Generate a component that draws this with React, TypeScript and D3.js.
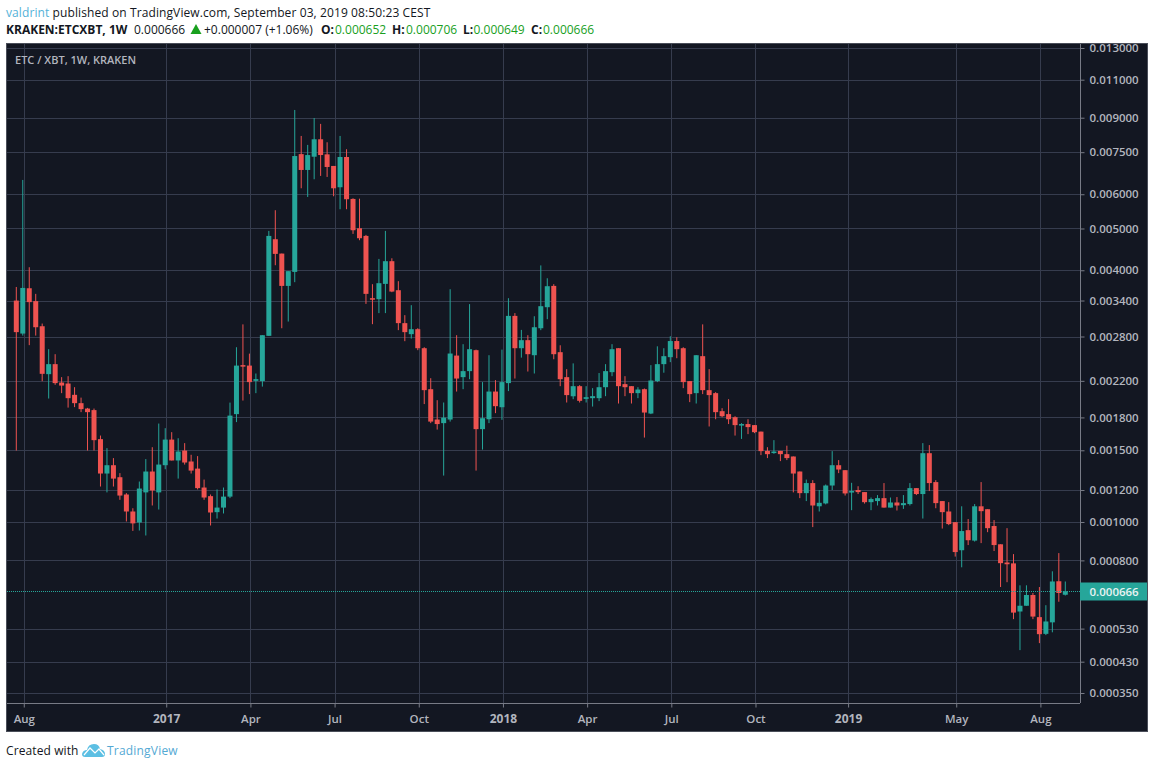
import { useEffect, useRef } from 'react';
import * as d3 from 'd3';

// Weekly ETC/XBT candles, in millionths of a BTC
const opens = [3399,2845,3632,3389,2960,2282,2410,2180,2168,2038,1947,1890,1874,1596,1317,1380,1290,1170,1062,997,1184,1332,1184,1380,1592,1417,1498,1409,1354,1217,1159,1058,1086,1156,1833,2397,2391,2200,2197,2810,4722,4373,3678,3965,7423,6825,7322,8030,7414,6972,6227,7311,5852,5006,4806,3443,3425,3718,4199,3594,3010,2836,2913,2628,2102,1779,1744,1779,2525,2245,2320,2600,1687,1782,2075,1904,2173,3130,2628,2745,2530,2928,3280,3678,2572,2245,2022,2137,1993,2001,2001,2125,2307,2628,2161,2137,2057,2102,1839,2197,2410,2503,2732,2628,2197,2057,2517,2091,2057,1863,1833,1802,1721,1735,1725,1664,1495,1477,1495,1468,1449,1332,1179,1248,1094,1112,1231,1380,1342,1184,1200,1186,1120,1127,1146,1086,1118,1101,1108,1213,1173,1476,1255,1127,1062,999,849,954,898,1094,1076,977,879,790,786,589,610,651,569,513,551,707,652];
const highs = [3657,6473,4065,3524,3003,2614,2544,2245,2257,2125,2007,1897,1890,1628,1518,1436,1320,1179,1082,1259,1428,1526,1740,1696,1659,1604,1561,1463,1452,1273,1170,1204,1217,1953,2642,2990,2552,2290,2820,4936,5511,4373,3981,9376,8173,7794,8987,8711,7904,6972,8173,7617,5872,5860,4832,3712,4250,4936,4265,3772,3142,3316,2928,2642,2232,1979,1954,3613,2820,2686,3335,2608,2185,2530,2209,2608,3443,3177,2902,2820,3124,4105,3832,3712,2670,2345,2420,2149,2137,2114,2296,2410,2686,2628,2257,2137,2125,2110,2397,2655,2628,2804,2789,2642,2197,2530,2990,2345,2068,1894,1990,1812,1744,1782,1725,1664,1526,1587,1495,1539,1449,1332,1273,1269,1200,1238,1493,1420,1342,1250,1226,1186,1150,1166,1248,1150,1153,1166,1248,1213,1561,1544,1269,1127,1120,999,1094,1017,1108,1255,1076,1011,879,965,830,690,690,659,683,612,750,835,706];
const lows = [1498,2814,2672,2814,2196,1997,2153,2057,1900,1905,1853,1498,1498,1224,1184,1224,1135,1003,950,952,925,1099,1074,1349,1417,1280,1385,1317,1204,1135,980,1020,1050,1146,1754,1975,2046,2057,2132,2810,4109,2928,3036,3752,6193,5914,6497,6613,6577,5936,5540,5540,4858,4697,3339,2993,3177,3177,3556,2898,2730,2769,2600,1937,1744,1683,1302,1759,2075,2102,2220,1339,1506,1744,1843,1776,2080,2228,2497,2315,2290,2898,3075,2475,2137,1954,1990,1954,1954,1911,1969,2023,2257,1943,2023,1943,2001,1610,1833,2185,2300,2436,2489,2114,1958,1943,2046,1712,1782,1802,1735,1628,1598,1641,1650,1460,1436,1471,1412,1420,1184,1146,1127,971,1062,1106,1200,1320,1163,1070,1173,1111,1070,1099,1086,1086,1068,1078,1099,1166,1020,1193,1082,963,982,818,768,875,893,885,943,845,683,703,562,463,610,562,484,509,518,625,649];
const closes = [2867,3638,3371,2944,2286,2410,2173,2144,2001,1947,1884,1853,1587,1317,1380,1280,1163,1062,992,1210,1332,1197,1385,1592,1417,1490,1401,1339,1213,1150,1056,1086,1156,1818,2391,2378,2185,2221,2820,4806,4366,3678,3981,7348,6825,7386,8030,7387,6934,6193,7311,5843,4954,4747,3524,3417,3732,4199,3568,3010,2867,2913,2628,2091,1759,1735,1798,2553,2228,2320,2614,1687,1792,2075,1915,2185,3130,2628,2745,2544,2944,3298,3672,2544,2220,2035,2137,1972,2012,2023,2125,2320,2614,2137,2125,2057,2098,1849,2204,2410,2517,2732,2614,2185,2046,2530,2091,2035,1853,1812,1782,1725,1735,1706,1659,1493,1468,1490,1468,1436,1317,1179,1248,1099,1116,1231,1380,1347,1177,1193,1186,1120,1140,1146,1086,1118,1099,1114,1213,1173,1476,1248,1114,1058,988,840,949,900,1094,1064,965,875,787,782,585,610,651,571,512,554,706,659,666];

const priceTicks = [13000,11000,9000,7500,6000,5000,4000,3400,2800,2200,1800,1500,1200,1000,800,530,430,350];
const lastPrice = 666;
// Jan 1 2019 falls midweek, so its tick sits a little past the candle
const timeIndex = [1,23,36,49,62,75,88,101,114,128.3,145,158];
const timeLabels = ['Aug','2017','Apr','Jul','Oct','2018','Apr','Jul','Oct','2019','May','Aug'];
const boldLabels = ['2017','2018','2019'];

const UP = '#26a69a';
const DOWN = '#ef5350';
const BG = '#131722';
const GRID = '#363c4e';
const AXIS = '#787b86';
const LABEL = '#b2b5be';
const FONT = '"Open Sans", sans-serif';

// TradingView's log mode keeps a small offset on every price
const logOffset = 100;

const App = () => {
  const svgRef = useRef<SVGSVGElement>(null);

  useEffect(() => {
    if (!svgRef.current) return;
    const svg = d3.select(svgRef.current);
    svg.selectAll('*').remove();

    const frame = { left: 6, right: 1147, top: 43, bottom: 731 };
    const plotRight = 1080;
    const plotBottom = 703;
    // grid and ticks sit about a pixel right of the candle centres
    const gridShift = 1;

    const y = d3.scaleLog()
      .domain([13000 + logOffset, 350 + logOffset])
      .range([48, 693]);
    const x = d3.scaleLinear()
      .domain([0, opens.length - 1])
      .range([16.3, 1065.3]);
    const py = (p: number) => y(p + logOffset);

    svg.append('rect')
      .attr('x', frame.left + 0.5).attr('y', frame.top + 0.5)
      .attr('width', frame.right - frame.left).attr('height', frame.bottom - frame.top)
      .attr('fill', BG).attr('stroke', '#4a4e59');

    // Grid
    svg.append('g').selectAll('line').data(priceTicks).join('line')
      .attr('x1', frame.left + 1).attr('x2', plotRight)
      .attr('y1', d => Math.round(py(d)) + 0.5).attr('y2', d => Math.round(py(d)) + 0.5)
      .attr('stroke', GRID);
    svg.append('g').selectAll('line').data(timeIndex).join('line')
      .attr('x1', d => Math.round(x(d)) + gridShift + 0.5).attr('x2', d => Math.round(x(d)) + gridShift + 0.5)
      .attr('y1', frame.top + 1).attr('y2', plotBottom)
      .attr('stroke', GRID);

    // Axes
    const yAxis = d3.axisRight(y)
      .tickValues(priceTicks.map(d => d + logOffset))
      .tickSize(4)
      .tickPadding(5)
      .tickFormat(d => ((+d - logOffset) / 1e6).toFixed(6));
    const yG = svg.append('g')
      .attr('transform', `translate(${plotRight + 0.5},0)`)
      .call(yAxis);
    const xAxis = d3.axisBottom(x)
      .tickValues(timeIndex)
      .tickSize(4)
      .tickPadding(7)
      .tickFormat((_, i) => timeLabels[i]);
    const xG = svg.append('g')
      .attr('transform', `translate(${gridShift},${plotBottom + 0.5})`)
      .call(xAxis);
    yG.select('.domain').attr('d', `M0,${frame.top + 1}V${plotBottom}`).attr('stroke', AXIS);
    xG.select('.domain').attr('d', `M${frame.left},0H${plotRight - gridShift}`).attr('stroke', AXIS);
    [yG, xG].forEach(g => {
      g.selectAll('.tick line').attr('stroke', AXIS);
      g.selectAll('text')
        .attr('fill', LABEL)
        .style('font-family', FONT)
        .style('font-size', '11.5px')
        .style('font-weight', '600');
    });
    xG.selectAll('text')
      .filter(d => boldLabels.includes(timeLabels[timeIndex.indexOf(d as number)]))
      .style('font-size', '12px')
      .style('font-weight', '700');

    // Candles
    const candles = svg.append('g').selectAll('g').data(opens).join('g')
      .attr('fill', (d, i) => closes[i] >= d ? UP : DOWN)
      .attr('stroke', (d, i) => closes[i] >= d ? UP : DOWN);
    candles.append('line')
      .attr('x1', (_, i) => x(i)).attr('x2', (_, i) => x(i))
      .attr('y1', (_, i) => py(highs[i])).attr('y2', (_, i) => py(lows[i]))
      .attr('stroke-width', 1);
    candles.append('rect')
      .attr('x', (_, i) => x(i) - 2.5)
      .attr('y', (d, i) => py(Math.max(d, closes[i])))
      .attr('width', 5)
      .attr('height', (d, i) => Math.max(1.5, Math.abs(py(d) - py(closes[i]))))
      .attr('stroke', 'none');

    // Last price line and tag
    const lastY = Math.round(py(lastPrice)) + 0.5;
    svg.append('line')
      .attr('x1', frame.left + 1).attr('x2', plotRight)
      .attr('y1', lastY).attr('y2', lastY)
      .attr('stroke', UP).attr('stroke-dasharray', '1 1');
    svg.append('rect')
      .attr('x', plotRight).attr('y', lastY - 9)
      .attr('width', frame.right - plotRight).attr('height', 18)
      .attr('fill', UP);
    svg.append('text')
      .attr('x', plotRight + 9.5).attr('y', lastY + 4)
      .attr('fill', '#e8f3f2')
      .style('font-family', FONT).style('font-size', '11.5px').style('font-weight', '600')
      .text((lastPrice / 1e6).toFixed(6));

    // Chart title
    svg.append('text')
      .attr('x', 15).attr('y', 64)
      .attr('fill', LABEL)
      .style('font-family', FONT).style('font-size', '11px').style('font-weight', '600')
      .text('ETC / XBT, 1W, KRAKEN');

    // Header lines
    const line1 = svg.append('text').attr('x', 6).attr('y', 17)
      .style('font-family', FONT).style('font-size', '12px').style('letter-spacing', '0.1px').attr('fill', BG);
    line1.append('tspan').attr('fill', '#53b2d8').text('valdrint');
    line1.append('tspan').text(' published on TradingView.com, September 03, 2019 08:50:23 CEST');

    const line2 = svg.append('g')
      .style('font-family', FONT).style('font-size', '12px').attr('fill', BG);
    const headerPart = (px: number, s: string, color = BG, bold = false) =>
      line2.append('text').attr('x', px).attr('y', 34)
        .attr('fill', color)
        .style('font-weight', bold ? '700' : '400')
        .text(s);
    const quoteGreen = '#19a01e';
    headerPart(6, 'KRAKEN:ETCXBT, 1W', BG, true);
    headerPart(134, '0.000666');
    svg.append('path')
      .attr('d', 'M190.5,34 L196,24 L201.5,34 Z')
      .attr('fill', quoteGreen);
    headerPart(204, '+0.000007 (+1.06%)');
    headerPart(321, 'O:', BG, true);
    headerPart(335, '0.000652', quoteGreen);
    headerPart(392, 'H:', BG, true);
    headerPart(406, '0.000706', quoteGreen);
    headerPart(463, 'L:', BG, true);
    headerPart(473.5, '0.000649', quoteGreen);
    headerPart(531, 'C:', BG, true);
    headerPart(543, '0.000666', quoteGreen);

    // Footer
    svg.append('text').attr('x', 6).attr('y', 755)
      .style('font-family', FONT).style('font-size', '12px').style('letter-spacing', '0.1px').attr('fill', BG)
      .text('Created with');
    svg.append('path')
      .attr('d', 'M82,754 Q83,750 87,750 Q88,744 94,744 Q99,744 100,749 Q105,750 105,754 Q105,757 102,757 L85,757 Q82,757 82,754 Z')
      .attr('fill', '#5cbfe3');
    svg.append('path')
      .attr('d', 'M84,755 L90,748 L95,753 L99,749 L104,755')
      .attr('fill', 'none').attr('stroke', '#fff').attr('stroke-width', 1.2);
    svg.append('text').attr('x', 107).attr('y', 755)
      .style('font-family', FONT).style('font-size', '12px').style('letter-spacing', '0.2px').attr('fill', '#53a9d4')
      .text('TradingView');
  }, []);

  return (
    <svg
      ref={svgRef}
      width={1153}
      height={768}
      style={{ position: 'absolute', left: 0, top: 0, background: '#fff' }}
    />
  );
};

export default App;
